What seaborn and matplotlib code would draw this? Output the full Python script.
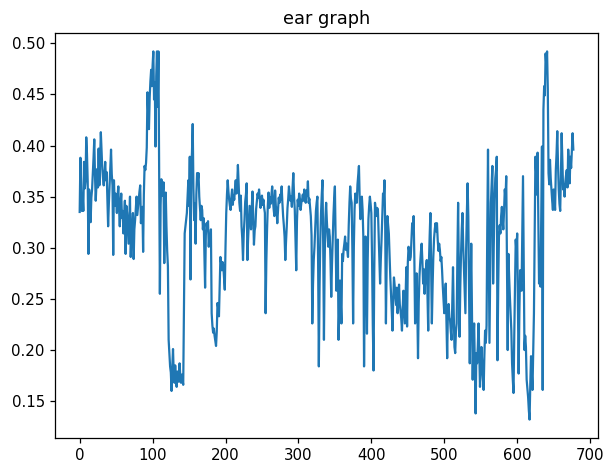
import numpy as np
import pandas as pd
import matplotlib
matplotlib.use("Agg")
import matplotlib.pyplot as plt
import seaborn as sns

title = "ear graph"
x_ticks = [0, 100, 200, 300, 400, 500, 600, 700]
y_ticks = [0.15, 0.20, 0.25, 0.30, 0.35, 0.40, 0.45, 0.50]

ear = [
    0.335, 0.388, 0.361, 0.336, 0.352, 0.336, 0.384, 0.358, 0.365, 0.408,
    0.392, 0.365, 0.294, 0.357, 0.341, 0.325, 0.349, 0.357, 0.372, 0.388,
    0.406, 0.371, 0.346, 0.362, 0.377, 0.359, 0.397, 0.361, 0.385, 0.413,
    0.396, 0.377, 0.368, 0.361, 0.372, 0.384, 0.366, 0.374, 0.349, 0.321,
    0.343, 0.361, 0.378, 0.396, 0.372, 0.361, 0.293, 0.366, 0.341, 0.353,
    0.347, 0.334, 0.351, 0.360, 0.338, 0.321, 0.342, 0.353, 0.329, 0.336,
    0.314, 0.331, 0.346, 0.294, 0.341, 0.334, 0.318, 0.304, 0.328, 0.350,
    0.291, 0.312, 0.320, 0.334, 0.289, 0.318, 0.327, 0.338, 0.350, 0.332,
    0.340, 0.348, 0.355, 0.361, 0.324, 0.337, 0.340, 0.296, 0.352, 0.380,
    0.376, 0.383, 0.398, 0.452, 0.431, 0.416, 0.447, 0.463, 0.474, 0.458,
    0.478, 0.492, 0.445, 0.462, 0.399, 0.468, 0.492, 0.438, 0.492, 0.367,
    0.255, 0.342, 0.367, 0.360, 0.351, 0.364, 0.285, 0.331, 0.354, 0.321,
    0.297, 0.282, 0.210, 0.196, 0.184, 0.178, 0.160, 0.183, 0.201, 0.176,
    0.168, 0.185, 0.171, 0.164, 0.179, 0.172, 0.169, 0.187, 0.174, 0.168,
    0.176, 0.171, 0.166, 0.243, 0.314, 0.321, 0.327, 0.334, 0.349, 0.366,
    0.341, 0.389, 0.269, 0.378, 0.393, 0.421, 0.358, 0.327, 0.343, 0.304,
    0.352, 0.373, 0.366, 0.373, 0.350, 0.338, 0.327, 0.341, 0.337, 0.318,
    0.329, 0.295, 0.261, 0.312, 0.324, 0.318, 0.326, 0.301, 0.312, 0.305,
    0.318, 0.236, 0.224, 0.217, 0.221, 0.214, 0.209, 0.204, 0.218, 0.246,
    0.241, 0.233, 0.262, 0.291, 0.285, 0.278, 0.286, 0.282, 0.271, 0.259,
    0.301, 0.334, 0.352, 0.366, 0.355, 0.347, 0.341, 0.337, 0.349, 0.357,
    0.342, 0.351, 0.347, 0.358, 0.366, 0.353, 0.362, 0.381, 0.362, 0.344,
    0.336, 0.351, 0.321, 0.309, 0.288, 0.314, 0.327, 0.345, 0.352, 0.363,
    0.288, 0.309, 0.326, 0.341, 0.329, 0.318, 0.339, 0.355, 0.331, 0.303,
    0.317, 0.321, 0.338, 0.346, 0.353, 0.349, 0.357, 0.348, 0.339, 0.344,
    0.351, 0.342, 0.347, 0.339, 0.334, 0.236, 0.287, 0.318, 0.341, 0.354,
    0.339, 0.349, 0.343, 0.352, 0.360, 0.347, 0.338, 0.331, 0.356, 0.341,
    0.336, 0.324, 0.337, 0.349, 0.344, 0.352, 0.347, 0.360, 0.344, 0.331,
    0.322, 0.311, 0.288, 0.306, 0.321, 0.339, 0.348, 0.360, 0.352, 0.346,
    0.350, 0.340, 0.359, 0.373, 0.351, 0.337, 0.309, 0.278, 0.326, 0.347,
    0.341, 0.353, 0.348, 0.337, 0.344, 0.347, 0.352, 0.346, 0.357, 0.349,
    0.344, 0.356, 0.351, 0.365, 0.344, 0.348, 0.339, 0.331, 0.312, 0.226,
    0.264, 0.288, 0.301, 0.318, 0.336, 0.344, 0.350, 0.286, 0.184, 0.262,
    0.308, 0.334, 0.352, 0.366, 0.301, 0.210, 0.287, 0.329, 0.344, 0.326,
    0.312, 0.301, 0.318, 0.311, 0.287, 0.252, 0.283, 0.308, 0.331, 0.348,
    0.360, 0.312, 0.258, 0.281, 0.308, 0.210, 0.241, 0.268, 0.247, 0.226,
    0.294, 0.287, 0.298, 0.304, 0.311, 0.298, 0.304, 0.297, 0.291, 0.322,
    0.344, 0.360, 0.348, 0.344, 0.297, 0.226, 0.301, 0.338, 0.353, 0.347,
    0.344, 0.362, 0.371, 0.380, 0.348, 0.328, 0.341, 0.350, 0.337, 0.311,
    0.184, 0.262, 0.311, 0.279, 0.216, 0.288, 0.328, 0.341, 0.350, 0.343,
    0.334, 0.288, 0.224, 0.180, 0.276, 0.344, 0.337, 0.331, 0.339, 0.337,
    0.312, 0.287, 0.265, 0.289, 0.308, 0.331, 0.353, 0.348, 0.366, 0.321,
    0.226, 0.284, 0.331, 0.322, 0.314, 0.293, 0.271, 0.255, 0.238, 0.219,
    0.248, 0.271, 0.263, 0.252, 0.244, 0.261, 0.236, 0.252, 0.264, 0.245,
    0.238, 0.231, 0.219, 0.241, 0.258, 0.242, 0.226, 0.253, 0.281, 0.223,
    0.285, 0.301, 0.296, 0.288, 0.291, 0.307, 0.324, 0.318, 0.331, 0.289,
    0.226, 0.258, 0.275, 0.243, 0.192, 0.247, 0.272, 0.285, 0.296, 0.304,
    0.287, 0.265, 0.279, 0.255, 0.271, 0.281, 0.288, 0.254, 0.219, 0.286,
    0.312, 0.334, 0.283, 0.226, 0.262, 0.291, 0.309, 0.318, 0.324, 0.316,
    0.324, 0.308, 0.297, 0.304, 0.298, 0.287, 0.291, 0.278, 0.262, 0.249,
    0.236, 0.252, 0.265, 0.228, 0.192, 0.238, 0.245, 0.232, 0.229, 0.218,
    0.210, 0.248, 0.281, 0.236, 0.203, 0.197, 0.218, 0.226, 0.291, 0.344,
    0.278, 0.213, 0.262, 0.294, 0.318, 0.334, 0.302, 0.281, 0.258, 0.236,
    0.298, 0.334, 0.363, 0.331, 0.254, 0.187, 0.251, 0.304, 0.238, 0.171,
    0.212, 0.226, 0.181, 0.138, 0.197, 0.187, 0.203, 0.226, 0.198, 0.164,
    0.181, 0.203, 0.187, 0.172, 0.161, 0.194, 0.219, 0.207, 0.224, 0.318,
    0.396, 0.302, 0.207, 0.278, 0.344, 0.362, 0.380, 0.265, 0.304, 0.347,
    0.368, 0.376, 0.389, 0.190, 0.262, 0.311, 0.322, 0.314, 0.331, 0.340,
    0.327, 0.318, 0.336, 0.357, 0.348, 0.370, 0.291, 0.200, 0.294, 0.271,
    0.252, 0.236, 0.219, 0.187, 0.171, 0.158, 0.214, 0.258, 0.308, 0.296,
    0.314, 0.241, 0.177, 0.236, 0.278, 0.266, 0.258, 0.312, 0.370, 0.284,
    0.200, 0.214, 0.203, 0.171, 0.162, 0.154, 0.141, 0.132, 0.167, 0.194,
    0.178, 0.161, 0.197, 0.236, 0.318, 0.389, 0.374, 0.352, 0.393, 0.331,
    0.265, 0.284, 0.262, 0.331, 0.399, 0.161, 0.435, 0.458, 0.449, 0.490,
    0.478, 0.492, 0.455, 0.373, 0.362, 0.386, 0.368, 0.357, 0.346, 0.337,
    0.357, 0.349, 0.337, 0.376, 0.392, 0.414, 0.382, 0.357, 0.343, 0.336,
    0.371, 0.412, 0.384, 0.357, 0.362, 0.350, 0.364, 0.371, 0.376, 0.359,
    0.396, 0.381, 0.363, 0.389, 0.378, 0.394, 0.412, 0.396,
]

frame = pd.DataFrame({"frame": np.arange(len(ear)), "ear": ear})

fig = plt.figure(figsize=(6.03, 4.65), dpi=100)
ax = fig.add_axes([55 / 603, (465 - 438) / 465, 543 / 603, 405 / 465])
sns.lineplot(data=frame, x="frame", y="ear", ax=ax, color="#1f77b4", linewidth=1.6)
ax.set_title(title, fontsize=12.8, pad=6.5)
ax.set_xlabel("")
ax.set_ylabel("")
ax.set_xticks(x_ticks)
ax.set_yticks(y_ticks)
ax.tick_params(labelsize=10.8, length=3.8, width=0.9)
for s in ax.spines.values():
    s.set_linewidth(0.9)
fig.savefig("out.png", dpi=100)
